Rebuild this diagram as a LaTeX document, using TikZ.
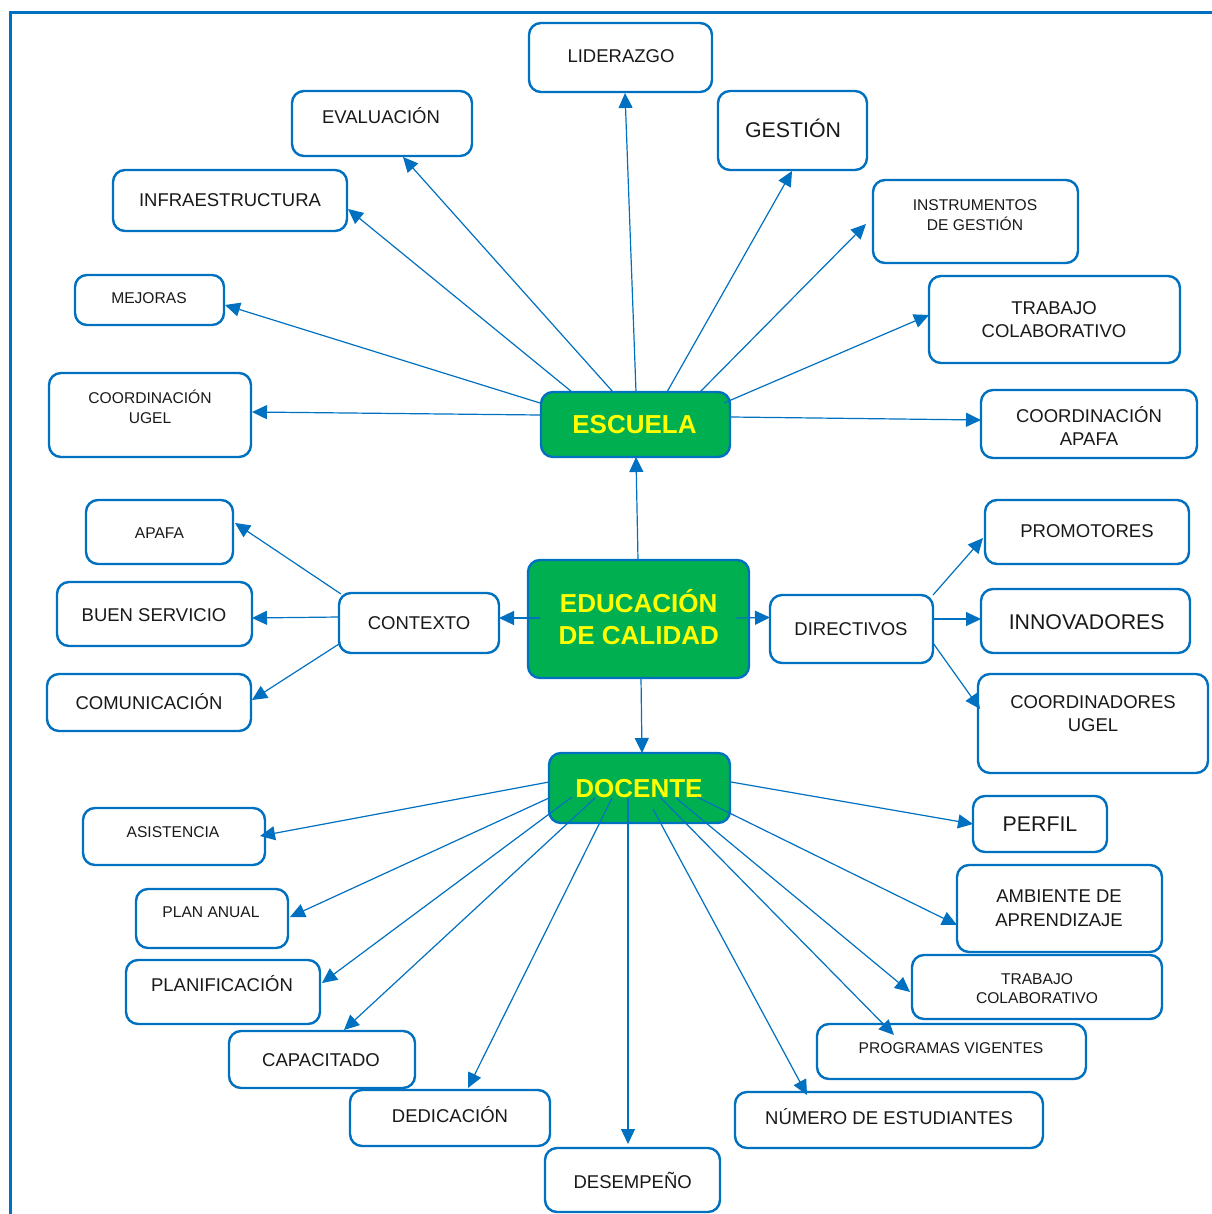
\documentclass[tikz,border=0pt]{standalone}
\usepackage{fontspec}
\setmainfont{Liberation Sans}
\usetikzlibrary{arrows.meta,calc}
\definecolor{bl}{HTML}{0070C0}
\definecolor{gr}{HTML}{00B050}
\definecolor{yl}{HTML}{FFFF00}
\newcommand\conn[4]{\draw[arr] ($(#1.north west)+(#2)$) -- ($(#3.north west)+(#4)$);}
\begin{document}
\begin{tikzpicture}[x=1pt,y=-1pt,
  box/.style={draw=bl,line width=2.4pt,rounded corners=12pt,fill=white,inner sep=0pt,outer sep=0pt},
  gbox/.style={box,fill=gr},
  std/.style={font=\fontsize{18.5}{20}\selectfont,anchor=base,inner sep=0pt,text=black!90},
  sml/.style={font=\fontsize{15.6}{17}\selectfont,anchor=base,inner sep=0pt,text=black!90},
  big/.style={font=\fontsize{21.3}{23}\selectfont,anchor=base,inner sep=0pt,text=black!90},
  ttl/.style={font=\fontsize{26}{28}\selectfont\bfseries,anchor=base,inner sep=0pt,text=yl},
  arr/.style={draw=bl,line width=1.2pt,-{Triangle[length=15pt,width=14pt]}}]
\useasboundingbox (0,0) rectangle (1211,1214);
\draw[bl,line width=3pt] (1212,12.5) -- (10.5,12.5) -- (10.5,1215);
% boxes
\node[box,minimum width=183pt,minimum height=69pt] (lid) at (620.5,57.5) {};
\node[box,minimum width=180pt,minimum height=65pt] (eva) at (382,123.5) {};
\node[box,minimum width=149pt,minimum height=79pt] (ges) at (792.5,130.5) {};
\node[box,minimum width=234pt,minimum height=61pt] (inf) at (230,200.5) {};
\node[box,minimum width=205pt,minimum height=83pt] (ins) at (975.5,221.5) {};
\node[box,minimum width=149pt,minimum height=50pt] (mej) at (149.5,300) {};
\node[box,minimum width=251pt,minimum height=87pt] (tra) at (1054.5,319.5) {};
\node[box,minimum width=202pt,minimum height=84pt] (cug) at (150,415) {};
\node[gbox,minimum width=189pt,minimum height=65pt] (esc) at (635.5,424.5) {};
\node[box,minimum width=216pt,minimum height=68pt] (cap) at (1089,424) {};
\node[box,minimum width=147pt,minimum height=64pt] (apa) at (159.5,532) {};
\node[box,minimum width=204pt,minimum height=64pt] (pro) at (1087,532) {};
\node[gbox,minimum width=221pt,minimum height=118pt] (edu) at (638.5,619) {};
\node[box,minimum width=195pt,minimum height=64pt] (bue) at (154.5,614) {};
\node[box,minimum width=160pt,minimum height=60pt] (con) at (419,623) {};
\node[box,minimum width=163pt,minimum height=68pt] (dir) at (851.5,629) {};
\node[box,minimum width=209pt,minimum height=64pt] (inn) at (1085.5,621) {};
\node[box,minimum width=204pt,minimum height=57pt] (com) at (149,702.5) {};
\node[box,minimum width=230pt,minimum height=99pt] (cor) at (1093,723.5) {};
\node[gbox,minimum width=181pt,minimum height=70pt] (doc) at (639.5,788) {};
\node[box,minimum width=182pt,minimum height=57pt] (asi) at (174,836.5) {};
\node[box,minimum width=134pt,minimum height=56pt] (per) at (1040,824) {};
\node[box,minimum width=152pt,minimum height=59pt] (pla) at (212,918.5) {};
\node[box,minimum width=205pt,minimum height=87pt] (amb) at (1059.5,908.5) {};
\node[box,minimum width=194pt,minimum height=64pt] (plf) at (223,992) {};
\node[box,minimum width=250pt,minimum height=64pt] (tr2) at (1037,987) {};
\node[box,minimum width=186pt,minimum height=57pt] (cpt) at (322,1059.5) {};
\node[box,minimum width=269pt,minimum height=55pt] (prg) at (951.5,1051.5) {};
\node[box,minimum width=200pt,minimum height=56pt] (ded) at (450,1118) {};
\node[box,minimum width=308pt,minimum height=56pt] (num) at (889,1120) {};
\node[box,minimum width=175pt,minimum height=64pt] (des) at (632.5,1180) {};
% texts
\node[std] (tlid) at (621,63) {LIDERAZGO};
\node[std] (teva) at (381,124) {EVALUACIÓN};
\node[big] (tges) at (793,138) {GESTIÓN};
\node[std] (tinf) at (230,207) {INFRAESTRUCTURA};
\node[sml] (tins1) at (975,211) {INSTRUMENTOS};
\node[sml] (tins2) at (975,231) {DE GESTIÓN};
\node[sml] (tmej) at (149,304) {MEJORAS};
\node[std] (ttra1) at (1054,314) {TRABAJO};
\node[std] (ttra2) at (1054,337) {COLABORATIVO};
\node[sml] (tcug1) at (150,403) {COORDINACIÓN};
\node[sml] (tcug2) at (150,423) {UGEL};
\node[ttl] (tesc) at (634.5,433) {ESCUELA};
\node[std] (tcap1) at (1089,422) {COORDINACIÓN};
\node[std] (tcap2) at (1089,445) {APAFA};
\node[sml] (tapa) at (159.5,538) {APAFA};
\node[std] (tpro) at (1087,537.6) {PROMOTORES};
\node[ttl] (tedu1) at (638.7,612) {EDUCACIÓN};
\node[ttl] (tedu2) at (638.7,644) {DE CALIDAD};
\node[std] (tbue) at (154,621) {BUEN SERVICIO};
\node[std] (tcon) at (419,629) {CONTEXTO};
\node[std] (tdir) at (851,635.6) {DIRECTIVOS};
\node[big] (tinn) at (1086.7,629) {INNOVADORES};
\node[std] (tcom) at (149,709) {COMUNICACIÓN};
\node[std] (tcor1) at (1093,708) {COORDINADORES};
\node[std] (tcor2) at (1093,731) {UGEL};
\node[ttl] (tdoc) at (639,797) {DOCENTE};
\node[sml] (tasi) at (173,837.5) {ASISTENCIA};
\node[big] (tper) at (1040,831.5) {PERFIL};
\node[sml] (tpla) at (211,917.5) {PLAN ANUAL};
\node[std] (tamb1) at (1059,902.6) {AMBIENTE DE};
\node[std] (tamb2) at (1059,926.6) {APRENDIZAJE};
\node[std] (tplf) at (222,991.6) {PLANIFICACIÓN};
\node[sml] (ttr21) at (1037,984.5) {TRABAJO};
\node[sml] (ttr22) at (1037,1003.5) {COLABORATIVO};
\node[std] (tcpt) at (321,1066) {CAPACITADO};
\node[sml] (tprg) at (951,1053) {PROGRAMAS VIGENTES};
\node[std] (tded) at (450,1122) {DEDICACIÓN};
\node[std] (tnum) at (889,1124) {NÚMERO DE ESTUDIANTES};
\node[std] (tdes) at (632.7,1188) {DESEMPEÑO};
% connectors
\conn{esc}{95,0}{lid}{96,70}
\conn{esc}{72,0}{eva}{111,66}
\conn{esc}{31,0}{inf}{235,39}
\conn{esc}{-1,11}{mej}{150,30}
\conn{esc}{-1,23}{cug}{203,39}
\conn{esc}{126,0}{ges}{74,80}
\conn{esc}{159,0}{ins}{-7,44}
\conn{esc}{183,11}{tra}{0,39}
\conn{esc}{190,25}{cap}{0,30}
\conn{edu}{110,0}{esc}{95,65}
\conn{edu}{12,58}{con}{160,25}
\conn{edu}{208,58}{dir}{0,22.5}
\conn{edu}{113,118}{doc}{93,0}
\conn{con}{2,1}{apa}{149,23}
\conn{con}{0,24}{bue}{195,36}
\conn{con}{0,51}{com}{205,26}
\conn{dir}{163,0}{pro}{-2,38}
\conn{dir}{163,24}{inn}{0,30}
\conn{dir}{163,48}{cor}{2,35}
\conn{doc}{0,29}{asi}{177,28}
\conn{doc}{0,45}{pla}{154,28}
\conn{doc}{23,44}{plf}{196,23}
\conn{doc}{46,45}{cpt}{115,-1}
\conn{doc}{63,45}{ded}{118,-2}
\conn{doc}{79,45}{des}{83,-4}
\conn{doc}{104,56}{num}{72,3}
\conn{doc}{111,44}{prg}{77,11}
\conn{doc}{127,45}{tr2}{-2,37}
\conn{doc}{148,44}{amb}{0,60}
\conn{doc}{182,29}{per}{0,28}
\end{tikzpicture}
\end{document}
